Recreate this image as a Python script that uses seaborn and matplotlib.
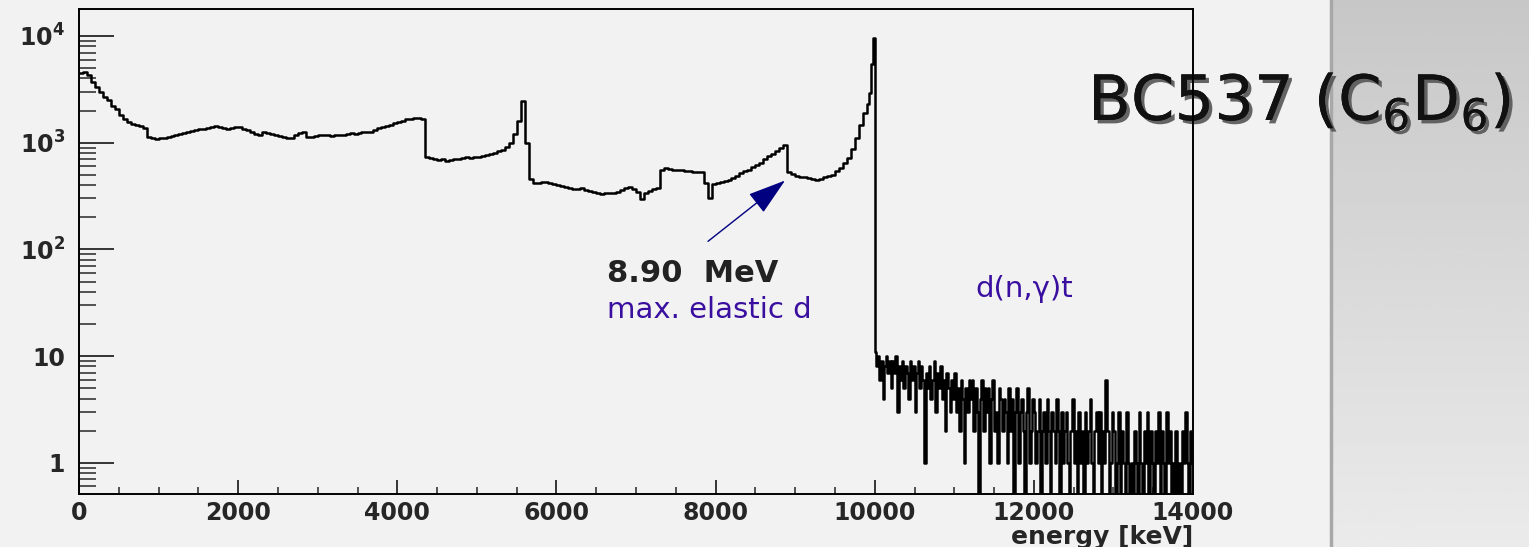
import numpy as np
import matplotlib
matplotlib.use("Agg")
import matplotlib.pyplot as plt
import matplotlib.patheffects as pe
from matplotlib.ticker import FixedLocator, FuncFormatter, LogLocator, MultipleLocator, NullFormatter
import seaborn as sns

# spectrum 0-9900 keV, 50 keV bins (counts)
counts_low = [
    4470, 4620, 4300, 3700, 3300, 3000, 2700, 2500, 2200, 2050,   # 0-500
    1800, 1650, 1560, 1500, 1460, 1440, 1380, 1140, 1100, 1090,   # 500-1000
    1110, 1100, 1140, 1150, 1170, 1200, 1230, 1260, 1290, 1310,   # 1000-1500
    1340, 1350, 1380, 1400, 1430, 1390, 1370, 1340, 1380, 1400,   # 1500-2000
    1390, 1350, 1310, 1260, 1200, 1175, 1260, 1230, 1200, 1175,   # 2000-2500
    1150, 1120, 1100, 1097, 1180, 1230, 1260, 1140, 1135, 1160,   # 2500-3000
    1175, 1170, 1175, 1165, 1180, 1175, 1190, 1200, 1220, 1215,   # 3000-3500
    1240, 1250, 1260, 1270, 1320, 1360, 1410, 1430, 1480, 1515,   # 3500-4000
    1550, 1600, 1650, 1660, 1690, 1700, 1680, 740, 720, 700,      # 4000-4500
    690, 700, 680, 690, 710, 700, 720, 738, 720, 730,             # 4500-5000
    740, 750, 770, 790, 800, 830, 860, 920, 990, 1200,            # 5000-5500
    1600, 2450, 1000, 460, 415, 420, 430, 425, 420, 410,          # 5500-6000
    400, 395, 385, 375, 370, 365, 375, 360, 350, 345,             # 6000-6500
    335, 330, 335, 340, 335, 345, 360, 375, 385, 370,             # 6500-7000
    345, 295, 340, 350, 370, 380, 560, 575, 570, 560,             # 7000-7500
    555, 550, 545, 540, 535, 535, 530, 420, 300, 410,             # 7500-8000
    420, 430, 440, 450, 470, 490, 515, 540, 560, 590,             # 8000-8500
    615, 650, 700, 750, 790, 840, 900, 960, 530, 510,             # 8500-9000
    490, 480, 475, 470, 460, 450, 460, 480, 490, 500,             # 9000-9500
    540, 580, 640, 720, 880, 1100, 1450, 1900,                    # 9500-9900
]

# 9900 keV up to the edge, 25 keV bins
counts_edge = [2300, 2900, 5500, 9500]

# tail 10000-14000 keV, 20 keV bins
counts_high = [
    11, 8, 10, 6, 9, 4, 8, 10, 7, 9,    # 10000
    5, 9, 7, 10, 3, 8, 6, 9, 5, 8,      # 10200
    7, 4, 9, 6, 8, 3, 7, 9, 5, 8,       # 10400
    6, 1, 7, 5, 8, 4, 6, 9, 3, 7,       # 10600
    5, 8, 4, 6, 2, 7, 5, 3, 6, 4,       # 10800
    7, 3, 5, 2, 6, 4, 1, 5, 3, 6,       # 11000
    4, 6, 2, 5, 3, 0, 4, 6, 2, 5,       # 11200
    3, 5, 1, 4, 6, 2, 3, 1, 5, 4,       # 11400
    2, 4, 3, 1, 5, 2, 4, 0, 3, 5,       # 11600
    1, 3, 4, 2, 0, 3, 5, 1, 2, 4,       # 11800
    3, 1, 2, 4, 0, 2, 3, 1, 4, 2,       # 12000
    0, 3, 2, 1, 4, 2, 0, 3, 1, 2,       # 12200
    3, 1, 0, 2, 4, 1, 2, 0, 3, 1,       # 12400
    2, 0, 3, 1, 2, 4, 1, 0, 2, 3,       # 12600
    1, 3, 0, 2, 1, 6, 2, 0, 1, 3,       # 12800
    2, 0, 1, 3, 0, 2, 1, 0, 3, 1,       # 13000
    0, 1, 0, 2, 1, 0, 3, 1, 0, 2,       # 13200
    1, 3, 0, 2, 1, 0, 2, 1, 3, 0,       # 13400
    2, 1, 0, 3, 1, 2, 0, 1, 0, 2,       # 13600
    0, 1, 0, 2, 1, 3, 1, 0, 2, 1,       # 13800
]

y_ticks = [1, 10, 100, 1000, 10000]
y_labels = ["1", "10", r"$\mathregular{10^{2}}$", r"$\mathregular{10^{3}}$", r"$\mathregular{10^{4}}$"]

edges = np.concatenate([np.arange(0, 9900, 50), np.arange(9900, 10000, 25), np.arange(10000, 14001, 20)])
centers = 0.5 * (edges[:-1] + edges[1:])
weights = np.array(counts_low + counts_edge + counts_high, dtype=float)

sns.set_theme(style="ticks")
plt.rcParams["font.family"] = ["DejaVu Sans"]
plt.rcParams["font.weight"] = "bold"
plt.rcParams["path.simplify"] = False

fig = plt.figure(figsize=(15.29, 5.47), dpi=100, facecolor="#f2f2f2")

# grey side panel
side = fig.add_axes([1331 / 1529, 0, 1 - 1331 / 1529, 1], zorder=-2)
side.imshow(np.linspace(0.78, 0.92, 200).reshape(-1, 1), cmap="gray", vmin=0, vmax=1,
            aspect="auto", extent=[0, 1, 0, 1], origin="upper", interpolation="bilinear")
side.set_axis_off()
fig.add_artist(plt.Line2D([1331 / 1529, 1331 / 1529], [0, 1], color="#a8a8a8", lw=2.5, zorder=-1.5))

ax = fig.add_axes([79 / 1529, 53 / 547, 1114 / 1529, 485 / 547], zorder=0)
ax.set_facecolor("none")

sns.histplot(x=centers, weights=weights, bins=list(edges), element="step", fill=False,
             color="black", ax=ax)
for art in ax.lines + ax.patches:
    art.set_linewidth(1.8)

ax.set_yscale("log")
ax.set_xlim(0, 14000)
ax.set_ylim(0.51, 1.79e4)

for s in ax.spines.values():
    s.set_color("black")
    s.set_linewidth(1.4)
    s.set_visible(True)

ax.xaxis.set_major_locator(MultipleLocator(2000))
ax.xaxis.set_minor_locator(MultipleLocator(500))
ax.yaxis.set_major_locator(FixedLocator(y_ticks))
ax.yaxis.set_major_formatter(FuncFormatter(lambda v, p: y_labels[y_ticks.index(v)] if v in y_ticks else ""))
ax.yaxis.set_minor_locator(LogLocator(base=10, subs=np.arange(2, 10), numticks=30))
ax.yaxis.set_minor_formatter(NullFormatter())

ax.tick_params(axis="y", which="major", direction="in", length=25, width=1.3, pad=10, labelsize=17)
ax.tick_params(axis="y", which="minor", direction="in", length=12, width=1.1)
ax.tick_params(axis="x", which="major", direction="in", length=10, width=1.3, pad=5, labelsize=17)
ax.tick_params(axis="x", which="minor", direction="in", length=5, width=1.1)

ax.set_ylabel("")
ax.set_xlabel("energy [keV]", loc="right", fontsize=18, fontweight="bold", labelpad=0)

# annotations
ax.annotate("", xy=(8873, 442), xytext=(7905, 119),
            arrowprops=dict(arrowstyle="-|>,head_length=0.8,head_width=0.25",
                            color="#000080", lw=1, mutation_scale=30, shrinkA=0, shrinkB=0))
ax.text(6640, 49, "8.90  MeV", fontsize=22, fontweight="bold", color="#222222", va="baseline")
ax.text(6640, 22.7, "max. elastic d", fontsize=21, fontweight="normal", color="#3a0fa0", va="baseline")
ax.text(11263, 35.5, "d(n,γ)t", fontsize=21, fontweight="normal", color="#3a0fa0", va="baseline")

fig.text(1088 / 1529, 1 - 120 / 547, r"BC537 (C$_\mathregular{6}$D$_\mathregular{6}$)",
         fontsize=45, fontweight="normal", color="#111111", ha="left", va="baseline", zorder=-1,
         path_effects=[pe.withSimplePatchShadow(offset=(2.5, -2.5), shadow_rgbFace="#555555", alpha=0.9),
                       pe.Normal()])

fig.savefig("out.png", dpi=100, facecolor=fig.get_facecolor())
